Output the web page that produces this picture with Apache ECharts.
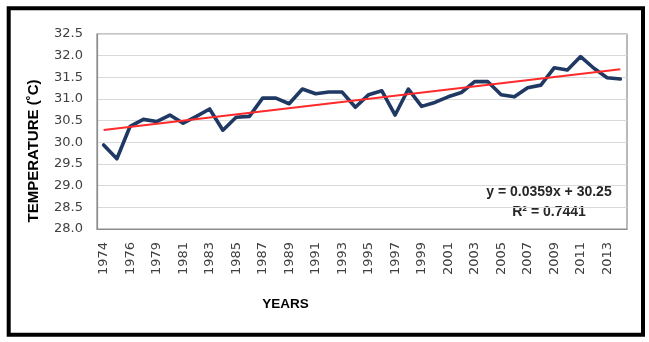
<!DOCTYPE html>
<html>
<head>
<meta charset="utf-8">
<script src="https://cdn.jsdelivr.net/npm/echarts@6/dist/echarts.min.js"></script>
<style>
  html, body { margin: 0; padding: 0; background: #fff; }
  #chart { width: 649px; height: 342px; }
  #state { position: absolute; left: 0; top: 0; width: 1px; height: 1px; overflow: hidden; font-size: 1px; color: rgba(0,0,0,0); white-space: pre; }
</style>
</head>
<body>
<div id="chart"></div>
<div id="state"></div>
<script>
const years = ['1974','1975','1976','1977','1979','1980','1981','1982','1983','1984',
  '1985','1986','1987','1988','1989','1990','1991','1992','1993','1994',
  '1995','1996','1997','1998','1999','2000','2001','2002','2003','2004',
  '2005','2006','2007','2008','2009','2010','2011','2012','2013','2014'];
const temperature = [29.94, 29.62, 30.37, 30.53, 30.48, 30.63, 30.44, 30.60, 30.77, 30.28,
  30.58, 30.60, 31.02, 31.02, 30.89, 31.23, 31.12, 31.16, 31.16, 30.81,
  31.10, 31.19, 30.63, 31.23, 30.83, 30.92, 31.05, 31.15, 31.40, 31.40,
  31.10, 31.05, 31.26, 31.32, 31.72, 31.67, 31.98, 31.71, 31.49, 31.46];
const trendSlope = 0.0359;
const trendIntercept = 30.25;
const equationLines = ['y = 0.0359x + 30.25', 'R² = 0.7441'];
const yTicks = { min: 28, max: 32.5, interval: 0.5 };

// trendline drawn from the chart's own stated equation, at the first and last point
const trend = years.map((_, i) =>
  (i === 0 || i === years.length - 1) ? +(trendIntercept + trendSlope * (i + 1)).toFixed(4) : null);

const chart = echarts.init(document.getElementById('chart'), null, { renderer: 'canvas' });
chart.setOption({
  animation: false,
  grid: { left: 97, top: 34, width: 530, height: 195 },
  xAxis: {
    type: 'category', data: years, boundaryGap: true,
    axisLine: { show: true, lineStyle: { color: '#8c8c8c', width: 1.2 } },
    axisTick: { show: false },
    axisLabel: { interval: 1, rotate: 90, margin: 13, fontFamily: 'DejaVu Sans', fontSize: 13, color: '#404040' }
  },
  yAxis: {
    type: 'value', min: yTicks.min, max: yTicks.max, interval: yTicks.interval,
    axisLine: { show: true, lineStyle: { color: '#8c8c8c', width: 1.2 } },
    splitLine: { lineStyle: { color: '#d9d9d9', width: 1.2 } },
    axisLabel: { margin: 14, fontFamily: 'DejaVu Sans', fontSize: 13, color: '#404040', formatter: v => v.toFixed(1) }
  },
  series: [
    { type: 'line', data: temperature, symbol: 'none', lineStyle: { color: '#1f3864', width: 3.6, join: 'round', cap: 'round' }, z: 2 },
    { type: 'line', data: trend, symbol: 'none', connectNulls: true, lineStyle: { color: '#ff2a2a', width: 2 }, z: 3 }
  ],
  graphic: [
    { type: 'rect', silent: true, shape: { x: 97, y: 34, width: 530, height: 195 }, style: { fill: 'none', stroke: '#8c8c8c', lineWidth: 1.2 } },
    { type: 'rect', silent: true, shape: { x: 8.7, y: 8.2, width: 634.3, height: 326.5 }, style: { fill: 'none', stroke: '#000', lineWidth: 4 } },
    { type: 'text', x: 34, y: 151, rotation: Math.PI / 2, style: { text: 'TEMPERATURE (˚C)', fontFamily: 'Liberation Sans', fontWeight: 'bold', fontSize: 15, fill: '#000', align: 'center', verticalAlign: 'middle' } },
    { type: 'text', x: 285.5, y: 304, style: { text: 'YEARS', fontFamily: 'Liberation Sans', fontWeight: 'bold', fontSize: 13.5, fill: '#000', align: 'center', verticalAlign: 'middle' } },
    { type: 'text', x: 549, y: 201.7, style: { text: equationLines.join('\n'), fontFamily: 'Liberation Sans', fontWeight: 'bold', fontSize: 14, lineHeight: 20, fill: '#262626', align: 'center', verticalAlign: 'middle' } }
  ]
});
function settle(tag) {
  const list = chart.getZr().storage.getDisplayList(true);
  const t = list.find(e => e.style && e.style.text === years[0]);
  if (!t) return tag;
  const m = t.getComputedTransform();
  const r = t.getBoundingRect().clone(); if (m) r.applyTransform(m);
  return tag + ' ' + [r.x, r.y, r.width, r.height].map(v => v.toFixed(1)).join(',') + ' ' + t.style.font;
}
const s0 = settle('t0');
setTimeout(() => { document.getElementById('state').textContent = s0 + '\n' + settle('t1'); }, 200);
</script>
</body>
</html>
